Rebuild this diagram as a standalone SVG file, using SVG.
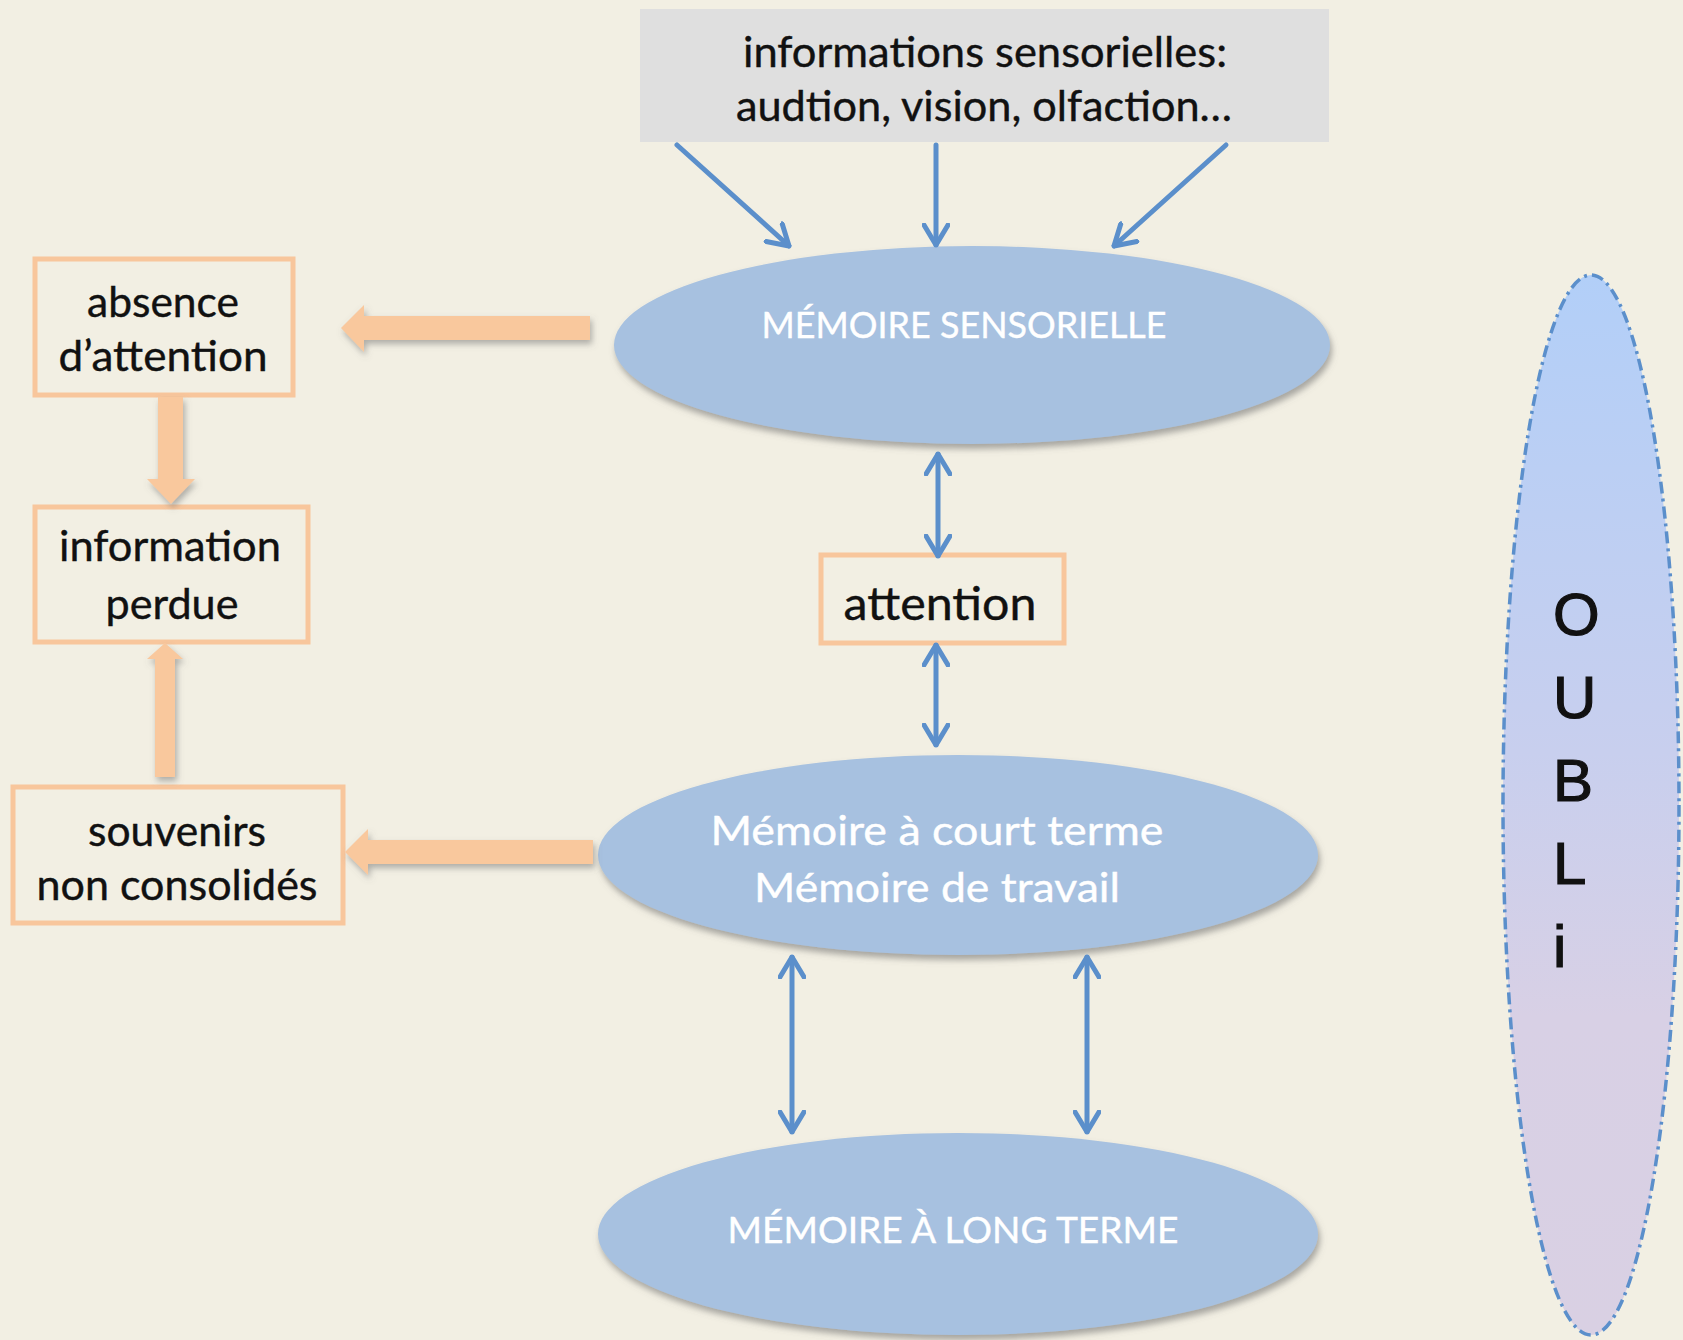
<svg xmlns="http://www.w3.org/2000/svg" width="1683" height="1340" viewBox="0 0 1683 1340">
  <style>
    .txt { font-family: Lato, "Open Sans", "Liberation Sans", sans-serif; fill: #111; text-anchor: middle; stroke: #111; stroke-width: 0.4; }
    .wtxt { font-family: Lato, "Open Sans", "Liberation Sans", sans-serif; fill: #ffffff; text-anchor: middle; stroke: #ffffff; stroke-width: 0.4; }
    .obox { fill: none; stroke: #f8c69c; stroke-width: 5; }
    .ell { fill: #a7c1e0; filter: url(#shadow); }
    .blue { stroke: #5b8fcb; stroke-width: 5; fill: none; stroke-linecap: round; }
    .oarrow { fill: #f9c89d; filter: url(#shadow2); }
    .oubli { font-family: "Liberation Sans", Arial, sans-serif; font-size: 60px; fill: #111; stroke: #111; stroke-width: 1.2; }
  </style>
  <defs>
    <filter id="shadow" x="-10%" y="-10%" width="120%" height="130%">
      <feDropShadow dx="2" dy="5" stdDeviation="3" flood-color="#6b6b6b" flood-opacity="0.55"/>
    </filter>
    <filter id="shadow2" x="-20%" y="-30%" width="140%" height="160%">
      <feDropShadow dx="2" dy="4" stdDeviation="3" flood-color="#6b6b6b" flood-opacity="0.5"/>
    </filter>
    <linearGradient id="oubliGrad" x1="0" y1="0" x2="0" y2="1">
      <stop offset="0" stop-color="#b2cff8"/>
      <stop offset="0.45" stop-color="#c8cfee"/>
      <stop offset="0.7" stop-color="#d8d0e5"/>
      <stop offset="1" stop-color="#d9d0e3"/>
    </linearGradient>
    <marker id="head" viewBox="0 0 24 28" markerWidth="24" markerHeight="28" refX="22" refY="14" orient="auto-start-reverse" markerUnits="userSpaceOnUse">
      <path d="M2,2 L22,14 L2,26" fill="none" stroke="#5b8fcb" stroke-width="5" stroke-linecap="round" stroke-linejoin="round"/>
    </marker>
  </defs>

  <rect x="0" y="0" width="1683" height="1340" fill="#f2efe3"/>

  <g id="sources">
    <rect x="640" y="9" width="689" height="133" fill="#dfdfdf"/>
    <text class="txt" x="985" y="67" font-size="42" textLength="484" lengthAdjust="spacingAndGlyphs">informations sensorielles:</text>
    <text class="txt" x="984" y="121" font-size="42" textLength="496" lengthAdjust="spacingAndGlyphs">audtion, vision, olfaction…</text>
  </g>

  <g id="memoire-sensorielle">
    <ellipse class="ell" cx="972" cy="345" rx="358" ry="99"/>
    <text class="wtxt" x="964" y="338" font-size="36" textLength="405" lengthAdjust="spacingAndGlyphs">MÉMOIRE SENSORIELLE</text>
  </g>

  <g id="attention">
    <rect class="obox" x="821" y="555" width="243" height="88"/>
    <text class="txt" x="940" y="620" font-size="46" textLength="193" lengthAdjust="spacingAndGlyphs">attention</text>
  </g>

  <g id="memoire-court-terme">
    <ellipse class="ell" cx="958" cy="855" rx="360" ry="100"/>
    <text class="wtxt" x="937" y="845" font-size="41" textLength="453" lengthAdjust="spacingAndGlyphs">Mémoire à court terme</text>
    <text class="wtxt" x="937" y="902" font-size="41" textLength="366" lengthAdjust="spacingAndGlyphs">Mémoire de travail</text>
  </g>

  <g id="memoire-long-terme">
    <ellipse class="ell" cx="958" cy="1234" rx="360" ry="101"/>
    <text class="wtxt" x="953" y="1243" font-size="36" textLength="451" lengthAdjust="spacingAndGlyphs">MÉMOIRE À LONG TERME</text>
  </g>

  <g id="absence-attention">
    <rect class="obox" x="35" y="259" width="258" height="136"/>
    <text class="txt" x="163" y="317" font-size="42" textLength="152" lengthAdjust="spacingAndGlyphs">absence</text>
    <text class="txt" x="163" y="371" font-size="42" textLength="209" lengthAdjust="spacingAndGlyphs">d’attention</text>
  </g>

  <g id="information-perdue">
    <rect class="obox" x="35" y="507" width="273" height="135"/>
    <text class="txt" x="170" y="561" font-size="42" textLength="222" lengthAdjust="spacingAndGlyphs">information</text>
    <text class="txt" x="172" y="619" font-size="42" textLength="133" lengthAdjust="spacingAndGlyphs">perdue</text>
  </g>

  <g id="souvenirs">
    <rect class="obox" x="13" y="787" width="330" height="136"/>
    <text class="txt" x="177" y="846" font-size="42" textLength="178" lengthAdjust="spacingAndGlyphs">souvenirs</text>
    <text class="txt" x="177" y="900" font-size="42" textLength="281" lengthAdjust="spacingAndGlyphs">non consolidés</text>
  </g>

  <g id="oubli">
    <ellipse cx="1591" cy="805" rx="88" ry="530" fill="url(#oubliGrad)" stroke="#5b8fcb" stroke-width="3.5" stroke-dasharray="12 5 3 5"/>
    <text class="oubli" x="1553" y="635">O</text>
    <text class="oubli" x="1553" y="718">U</text>
    <text class="oubli" x="1553" y="801">B</text>
    <text class="oubli" x="1553" y="884">L</text>
    <text class="oubli" x="1553" y="967">i</text>
  </g>

  <g id="connectors">
    <line class="blue" x1="677" y1="145" x2="789" y2="246" marker-end="url(#head)"/>
    <line class="blue" x1="936" y1="145" x2="936" y2="245" marker-end="url(#head)"/>
    <line class="blue" x1="1226" y1="145" x2="1114" y2="246" marker-end="url(#head)"/>
    <line class="blue" x1="938" y1="454" x2="938" y2="556" marker-start="url(#head)" marker-end="url(#head)"/>
    <line class="blue" x1="936" y1="645" x2="936" y2="745" marker-start="url(#head)" marker-end="url(#head)"/>
    <line class="blue" x1="792" y1="957" x2="792" y2="1132" marker-start="url(#head)" marker-end="url(#head)"/>
    <line class="blue" x1="1087" y1="957" x2="1087" y2="1132" marker-start="url(#head)" marker-end="url(#head)"/>

    <polygon class="oarrow" points="590,316 364,316 364,305 341,328 364,352 364,340 590,340"/>
    <polygon class="oarrow" points="593,840 368,840 368,829 345,852 368,875 368,864 593,864"/>
    <polygon class="oarrow" points="158,397 183,397 183,479 195,479 171,504 147,479 158,479"/>
    <polygon class="oarrow" points="155,777 175,777 175,659 183,659 165,643 147,659 155,659"/>
  </g>
</svg>
